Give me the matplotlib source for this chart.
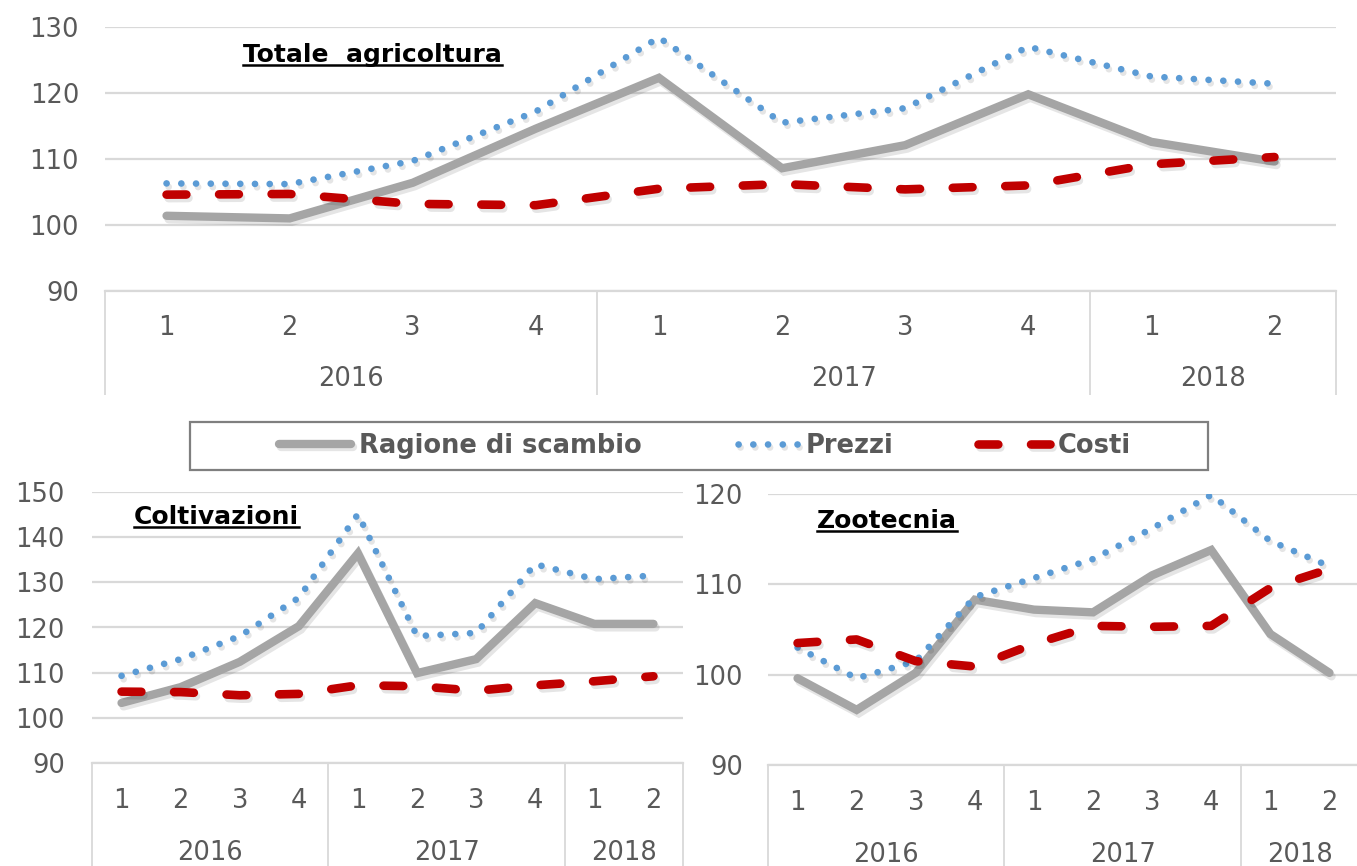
import matplotlib
matplotlib.use("Agg")
import matplotlib.pyplot as plt
import matplotlib.patheffects as pe
from matplotlib.patches import Rectangle
from matplotlib.lines import Line2D

# ---- data -------------------------------------------------------------
quarters = ["1", "2", "3", "4", "1", "2", "3", "4", "1", "2"]
years = ["2016", "2017", "2018"]
year_centers = [1.5, 5.5, 8.5]
year_bounds = [-0.5, 3.5, 7.5, 9.5]

tot_ragione = [101.4, 101.0, 106.4, 114.6, 122.3, 108.6, 112.1, 119.8, 112.6, 109.6]
tot_prezzi = [106.3, 106.2, 109.7, 117.2, 128.4, 115.5, 117.7, 127.0, 122.5, 121.4]
tot_costi = [104.6, 104.7, 103.2, 103.0, 105.5, 106.2, 105.4, 106.0, 109.2, 110.3]

col_ragione = [103.3, 106.8, 112.4, 120.3, 136.4, 109.9, 113.0, 125.4, 120.8, 120.8]
col_prezzi = [109.3, 113.0, 118.1, 126.6, 145.1, 118.1, 118.8, 134.0, 130.7, 131.5]
col_costi = [105.8, 105.7, 105.0, 105.3, 107.2, 107.0, 106.0, 107.2, 108.1, 109.2]

zoo_ragione = [99.6, 96.1, 100.2, 108.3, 107.2, 106.9, 111.0, 113.8, 104.5, 100.2]
zoo_prezzi = [103.0, 99.6, 101.5, 108.6, 110.7, 112.8, 116.2, 119.9, 114.8, 112.0]
zoo_costi = [103.5, 103.9, 101.5, 100.9, 103.4, 105.4, 105.3, 105.4, 109.6, 111.7]

series_names = ["Ragione di scambio", "Prezzi", "Costi"]

# ---- styling ----------------------------------------------------------
W, H = 1357, 866
DPI = 100
PX = 72.0 / DPI  # points per pixel

GRID = "#D9D9D9"
TXT = "#595959"
GRAY = "#A5A5A5"
BLUE = "#5B9BD5"
RED = "#C00000"

TICK_SIZE = 18.5
TITLE_SIZE = 18

STYLES = [
    dict(color=GRAY, lw=6.0, linestyle="-", solid_joinstyle="miter", solid_capstyle="round"),
    dict(color=BLUE, lw=4.8, linestyle=(0, (0.01, 2.2)), dash_capstyle="round"),
    dict(color=RED, lw=6.2, linestyle=(0, (2.3, 3.8)), dash_capstyle="round"),
]

plt.rcParams["font.family"] = ["DejaVu Sans"]

fig = plt.figure(figsize=(W / DPI, H / DPI), dpi=DPI)
fig.patch.set_facecolor("white")


def shadow():
    return [pe.SimpleLineShadow(offset=(1.5, -2.5), shadow_color="black", alpha=0.10),
            pe.Normal()]


def panel(left, right, top, bottom, ylim, yticks, ragione, prezzi, costi,
          title, title_xy, ytick_pad, sep_len, q_pad, y_pad):
    ax = fig.add_axes([left / W, 1 - bottom / H, (right - left) / W, (bottom - top) / H])
    x = list(range(len(quarters)))
    for z, (vals, st) in enumerate(zip((ragione, prezzi, costi), STYLES)):
        ax.plot(x, vals, path_effects=shadow(), zorder=3 + z, **st)

    ax.set_xlim(-0.5, len(quarters) - 0.5)
    ax.set_ylim(*ylim)
    ax.set_yticks(yticks)
    ax.yaxis.grid(True, color=GRID, lw=1.6)
    ax.set_axisbelow(True)
    for s in ("top", "right", "left"):
        ax.spines[s].set_visible(False)
    ax.spines["bottom"].set_color(GRID)
    ax.spines["bottom"].set_linewidth(1.6)
    ax.tick_params(axis="y", length=0, pad=ytick_pad * PX, labelsize=TICK_SIZE,
                   labelcolor=TXT)

    # quarter labels and year separators
    ax.set_xticks(x)
    ax.set_xticklabels(quarters)
    ax.tick_params(axis="x", which="major", length=0, pad=q_pad * PX,
                   labelsize=TICK_SIZE, labelcolor=TXT)
    ax.set_xticks(year_bounds, minor=True)
    ax.tick_params(axis="x", which="minor", length=sep_len * PX, width=1.3,
                   color=GRID, direction="out")

    # year labels on a second category level
    sec = ax.secondary_xaxis("bottom")
    sec.set_xticks(year_centers)
    sec.set_xticklabels(years)
    sec.tick_params(axis="x", length=0, pad=y_pad * PX, labelsize=TICK_SIZE,
                    labelcolor=TXT)
    sec.spines["bottom"].set_visible(False)

    t = fig.text(title_xy[0] / W, 1 - title_xy[1] / H, title, fontsize=TITLE_SIZE,
                 fontweight="bold", color="black", ha="left", va="center")
    return ax, t


ax_top, t1 = panel(105, 1336, 27, 291, (90, 130), [90, 100, 110, 120, 130],
                   tot_ragione, tot_prezzi, tot_costi,
                   "Totale  agricoltura", (243, 55), 26, 104, 24, 75)
ax_col, t2 = panel(92, 683, 492, 763, (90, 150), [90, 100, 110, 120, 130, 140, 150],
                   col_ragione, col_prezzi, col_costi,
                   "Coltivazioni", (134, 517), 27, 110, 25, 77)
ax_zoo, t3 = panel(768, 1359, 494, 765, (90, 120), [90, 100, 110, 120],
                   zoo_ragione, zoo_prezzi, zoo_costi,
                   "Zootecnia", (817, 521), 25, 110, 25, 77)

# legend with its own frame
fig.patches.append(Rectangle((190 / W, 1 - 470 / H), (1208 - 190) / W, 48 / H,
                             transform=fig.transFigure, facecolor="white",
                             edgecolor="#7F7F7F", lw=1.6, zorder=0))
leg_styles = [dict(st) for st in STYLES]
leg_styles[1]["linestyle"] = (0.4, (0.01, 2.2))  # let the dots run up to the label
handles = [Line2D([], [], path_effects=shadow(), **st) for st in leg_styles]
leg = fig.legend(handles, series_names, loc="center", bbox_to_anchor=(705 / W, 1 - 446 / H),
                 ncol=3, frameon=False, handlelength=2.8, handletextpad=0.3,
                 columnspacing=3.3, prop={"size": 18.5, "weight": "bold"})
for txt in leg.get_texts():
    txt.set_color(TXT)

# underline the panel titles
renderer = fig.canvas.get_renderer()
for t in (t1, t2, t3):
    bb = t.get_window_extent(renderer)
    yline = bb.y0 + 2
    fig.lines.append(Line2D([bb.x0 / W, bb.x1 / W], [yline / H, yline / H],
                            transform=fig.transFigure, color="black", lw=1.8))

fig.savefig("out.png", dpi=DPI, facecolor="white")
